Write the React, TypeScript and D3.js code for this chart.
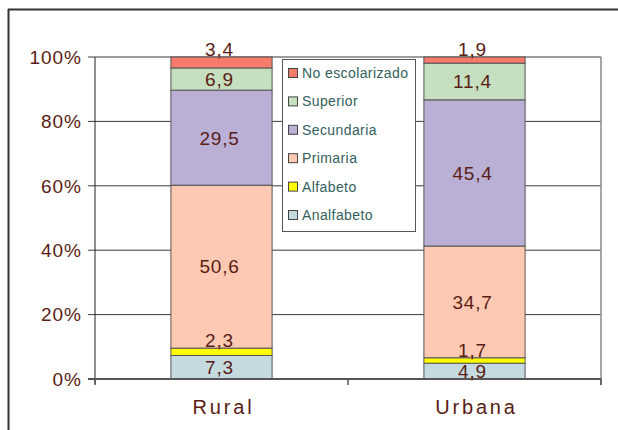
import React from "react";
import * as d3 from "d3";

const categories = ["Rural", "Urbana"];
const seriesNames = ["Analfabeto", "Alfabeto", "Primaria", "Secundaria", "Superior", "No escolarizado"];
const seriesColors = ["#c4dadf", "#ffff00", "#fdc9b3", "#bab0d6", "#c5dfc0", "#f57b6a"];
const ruralValues = [7.3, 2.3, 50.6, 29.5, 6.9, 3.4];
const urbanaValues = [4.9, 1.7, 34.7, 45.4, 11.4, 1.9];
const yTicks = [0, 20, 40, 60, 80, 100];

const W = 618;
const H = 430;
const plot = { left: 95, right: 601, top: 57, bottom: 379 };

export default function App() {
  const x = d3
    .scaleBand<string>()
    .domain(categories)
    .range([plot.left, plot.right])
    .paddingInner(0.6)
    .paddingOuter(0.3);
  const y = d3.scaleLinear().domain([0, 100]).range([plot.bottom, plot.top]);

  const rows = categories.map((c, i) => {
    const vals = i === 0 ? ruralValues : urbanaValues;
    const o: any = { cat: c };
    seriesNames.forEach((s, j) => (o[s] = vals[j]));
    return o;
  });
  const stacked = d3.stack<any>().keys(seriesNames)(rows);

  const labelColor = "#5a1c14";
  const font = "'Liberation Sans', Arial, sans-serif";
  const legendOrder = [...seriesNames.keys()].reverse();

  return (
    <svg width={W} height={H} style={{ position: "absolute", left: 0, top: 0 }}>
      <rect x={0} y={0} width={W} height={H} fill="#fff" />
      {/* outer frame */}
      <line x1={8} y1={9.5} x2={W} y2={9.5} stroke="#333" strokeWidth={2} />
      <line x1={8.5} y1={9} x2={8.5} y2={H} stroke="#333" strokeWidth={2} />

      {/* gridlines */}
      {yTicks.map((t) => (
        <line key={"g" + t} x1={plot.left - 7} x2={plot.right} y1={y(t)} y2={y(t)} stroke="#3a3a3a" strokeWidth={1} />
      ))}
      <line x1={plot.right} x2={plot.right} y1={plot.top} y2={plot.bottom + 6} stroke="#888" strokeWidth={1.5} />

      {/* bars */}
      {stacked.map((layer, j) =>
        layer.map((d, i) => (
          <rect
            key={j + "-" + i}
            x={x(categories[i])!}
            width={x.bandwidth()}
            y={y(d[1])}
            height={y(d[0]) - y(d[1])}
            fill={seriesColors[j]}
            stroke="#555"
            strokeWidth={1}
          />
        ))
      )}

      {/* axes */}
      <line x1={plot.left} x2={plot.left} y1={plot.top} y2={plot.bottom + 5} stroke="#222" strokeWidth={1} />
      <line x1={plot.left - 7} x2={plot.right} y1={plot.bottom} y2={plot.bottom} stroke="#555" strokeWidth={2} />
      {[plot.left, (plot.left + plot.right) / 2, plot.right].map((px) => (
        <line key={"xt" + px} x1={px} x2={px} y1={plot.bottom} y2={plot.bottom + 6} stroke="#555" strokeWidth={1.5} />
      ))}
      {yTicks.map((t) => (
        <text
          key={"yl" + t}
          x={82}
          y={y(t)}
          dy="0.36em"
          textAnchor="end"
          fontFamily={font}
          fontSize={19}
          letterSpacing={1}
          fill={labelColor}
        >
          {t + "%"}
        </text>
      ))}
      {categories.map((c) => (
        <text
          key={"xl" + c}
          x={x(c)! + x.bandwidth() / 2 + 2}
          y={414}
          textAnchor="middle"
          fontFamily={font}
          fontSize={20}
          letterSpacing={2.8}
          fill={labelColor}
        >
          {c}
        </text>
      ))}

      {/* data labels */}
      {stacked.map((layer, j) =>
        layer.map((d, i) => {
          const v = d.data[seriesNames[j]] as number;
          const top = y(d[1]);
          const mid = (y(d[0]) + y(d[1])) / 2;
          const cy = v < 4 ? top - 8 : mid;
          return (
            <text
              key={"dl" + j + "-" + i}
              x={x(categories[i])! + x.bandwidth() / 2 - 2}
              y={cy}
              dy="0.36em"
              textAnchor="middle"
              fontFamily={font}
              fontSize={19}
              letterSpacing={0.8}
              fill={labelColor}
            >
              {String(v).replace(".", ",")}
            </text>
          );
        })
      )}

      {/* legend */}
      <rect x={282.5} y={59.5} width={133} height={172} fill="#fff" stroke="#555" strokeWidth={1} />
      {legendOrder.map((j, k) => {
        const cy = 73 + k * 28.4;
        return (
          <g key={"lg" + j}>
            <rect x={288.5} y={cy - 4.5} width={9} height={9} fill={seriesColors[j]} stroke="#444" strokeWidth={1} />
            <text
              x={302}
              y={cy}
              dy="0.36em"
              fontFamily={font}
              fontSize={14}
              letterSpacing={0.4}
              fill="#33605e"
            >
              {seriesNames[j]}
            </text>
          </g>
        );
      })}
    </svg>
  );
}
